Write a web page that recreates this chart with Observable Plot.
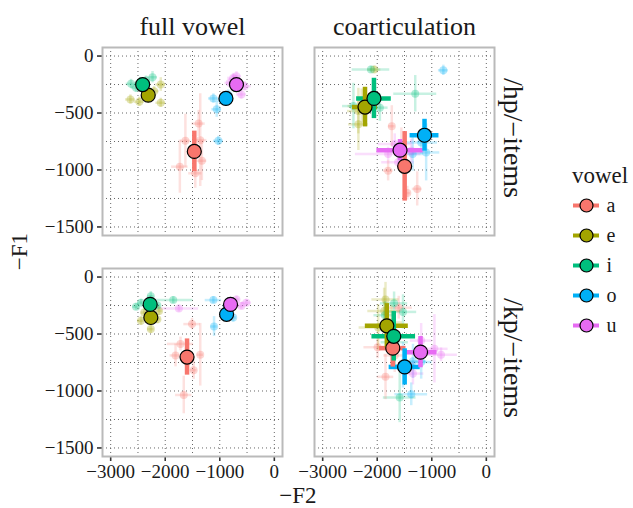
<!DOCTYPE html>
<html><head><meta charset="utf-8">
<script src="https://cdn.jsdelivr.net/npm/d3@7"></script>
<script src="https://cdn.jsdelivr.net/npm/@observablehq/plot@0.6"></script>
<style>
html,body{margin:0;padding:0;background:#fff;}
#wrap{position:relative;width:633px;height:508px;overflow:hidden;font-family:"Liberation Serif","DejaVu Serif",serif;}
#wrap svg{position:absolute;}
.lab{position:absolute;color:#1a1a1a;white-space:nowrap;text-align:center;}
</style></head><body><div id="wrap"></div>
<script>
const FONT = "'Liberation Serif', 'DejaVu Serif', serif";
const vowels = ["a","e","i","o","u"];
const vowelColors = ["#F8766D","#A3A500","#00BF7D","#00B0F6","#E76BF3"];
const conditions = ["full vowel","coarticulation"];
const itemTypes = ["/hp/\u2212items","/kp/\u2212items"];
const xTicks = [-3000,-2000,-1000,0];
const yTicks = [0,-500,-1000,-1500];
const xGrid = [-3000,-2500,-2000,-1500,-1000,-500,0];
const yGrid = [0,-250,-500,-750,-1000,-1250,-1500];

// [vowel, -F2, -F1, sd(-F2), sd(-F1)]
const fullHpMeans = [
 ["a",-1467,-837,40,178],["e",-2312,-343,50,30],["i",-2414,-250,50,30],["o",-887,-372,60,40],["u",-694,-250,50,30]];
const fullHpSpeakers = [
 ["a",-1388,-593,121,116],["a",-1630,-744,90,233],["a",-1358,-738,121,407],["a",-1732,-971,151,233],["a",-1449,-1029,121,131],["a",-1328,-919,90,174],
 ["e",-2638,-381,90,40],["e",-2475,-401,90,40],["e",-2082,-250,90,60],["e",-2082,-410,90,40],["e",-2203,-308,90,40],
 ["i",-2626,-244,90,40],["i",-2535,-279,90,40],["i",-2233,-186,90,50],["i",-2354,-215,90,40],["i",-2457,-227,90,40],
 ["o",-1056,-468,90,70],["o",-1026,-744,90,40],["o",-1117,-372,90,40],["o",-845,-337,90,40],["o",-948,-390,90,40],
 ["u",-755,-192,100,40],["u",-604,-337,90,40],["u",-815,-235,90,40],["u",-543,-265,120,40],["u",-694,-177,90,40]];
const coartHpMeans = [
 ["a",-1497,-968,90,305],["e",-2224,-448,230,174],["i",-2060,-372,318,177],["o",-1133,-695,265,140],["u",-1582,-826,424,93]];
const coartHpSpeakers = [
 ["a",-1733,-616,60,180],["a",-1800,-1006,90,90],["a",-1267,-1166,90,150],["a",-1448,-1203,60,60],["a",-1557,-831,80,200],
 ["e",-2054,-119,120,30],["e",-2345,-483,200,200],["e",-2345,-599,180,230],["e",-2285,-439,250,150],
 ["i",-2115,-119,345,30],["i",-1303,-331,394,160],["i",-1951,-453,150,120],["i",-2436,-439,200,200],
 ["o",-788,-125,90,45],["o",-1103,-846,250,250],["o",-1194,-759,300,100],["o",-1350,-860,200,150],
 ["u",-1800,-860,600,60],["u",-1679,-773,300,90],["u",-1376,-831,250,100],["u",-1618,-933,300,60]];
const fullKpMeans = [
 ["a",-1600,-702,40,159],["e",-2264,-355,40,30],["i",-2276,-240,40,30],["o",-875,-327,40,30],["u",-803,-240,40,30]];
const fullKpSpeakers = [
 ["a",-1509,-413,150,50],["a",-1720,-587,240,60],["a",-1811,-688,100,100],["a",-1358,-682,60,275],["a",-1479,-818,60,80],["a",-1660,-1035,150,165],
 ["e",-2264,-457,60,40],["e",-2113,-298,60,40],["e",-2384,-312,60,40],["e",-2444,-384,60,40],["e",-2143,-370,60,40],
 ["i",-2535,-260,60,30],["i",-2264,-168,60,40],["i",-1853,-202,362,30],["i",-2444,-225,60,30],["i",-2143,-249,60,30],
 ["o",-1117,-202,150,30],["o",-1105,-434,60,87],["o",-754,-355,60,40],["o",-875,-254,60,30],["o",-827,-312,60,30],
 ["u",-1750,-277,362,30],["u",-513,-225,90,30],["u",-694,-197,60,30],["u",-604,-254,60,30],["u",-755,-225,60,30]];
const coartKpMeans = [
 ["a",-1715,-624,242,166],["e",-1824,-428,394,195],["i",-1697,-520,400,217],["o",-1497,-789,285,159],["u",-1206,-659,303,137]];
const coartKpSpeakers = [
 ["a",-1606,-269,250,100],["a",-1994,-616,250,100],["a",-1848,-876,150,200],["a",-1679,-688,200,150],
 ["e",-1873,-298,300,200],["e",-1982,-442,350,200],["e",-1848,-197,250,150],["e",-1739,-399,200,150],
 ["i",-1691,-231,250,100],["i",-1527,-306,250,150],["i",-1588,-1058,300,220],["i",-1860,-335,200,120],["i",-1679,-572,250,200],
 ["o",-1376,-1029,300,100],["o",-1345,-740,250,150],["o",-1527,-775,200,200],["o",-1194,-746,200,150],
 ["u",-830,-682,300,60],["u",-1345,-847,200,100],["u",-951,-630,250,300],["u",-1194,-558,200,150]];

const panels = [
 [conditions[0], itemTypes[0], fullHpMeans, fullHpSpeakers],
 [conditions[1], itemTypes[0], coartHpMeans, coartHpSpeakers],
 [conditions[0], itemTypes[1], fullKpMeans, fullKpSpeakers],
 [conditions[1], itemTypes[1], coartKpMeans, coartKpSpeakers]];
const toRows = (c, it, arr) => arr.map(([v,x,y,sx,sy]) => ({cond:c, items:it, vowel:v, F2:x, F1:y, sdF2:sx, sdF1:sy}));
const means = panels.flatMap(([c,it,m]) => toRows(c,it,m));
const speakers = panels.flatMap(([c,it,,s]) => toRows(c,it,s));

const fmt = d => d < 0 ? "\u2212" + Math.abs(d) : String(d);
const fc = {fx:"cond", fy:"items"};
const topStrips = conditions.map(c => ({cond:c, items:itemTypes[0]}));

const plot = Plot.plot({
  width: 633, height: 508,
  marginLeft: 101, marginRight: 138, marginTop: 46, marginBottom: 52,
  style: {fontFamily: FONT, fontSize: "19px", color: "#1a1a1a", background: "transparent", overflow: "visible"},
  fx: {domain: conditions, paddingInner: 0.15, paddingOuter: 0, axis: null, label: null},
  fy: {domain: itemTypes, paddingInner: 0.15, paddingOuter: 0, axis: null, label: null},
  x: {domain: [-3150, 150], label: null},
  y: {domain: [-1575, 75], label: null},
  color: {domain: vowels, range: vowelColors},
  marks: [
    Plot.gridX(xGrid, {stroke: "#555", strokeOpacity: 0.9, strokeWidth: 1, strokeDasharray: "1,3"}),
    Plot.gridY(yGrid, {stroke: "#555", strokeOpacity: 0.9, strokeWidth: 1, strokeDasharray: "1,3"}),
    Plot.axisX(xTicks, {tickFormat: fmt, tickSize: 5, tickPadding: 3, strokeWidth: 1.6, stroke: "#333", label: null}),
    Plot.axisY(yTicks, {tickFormat: fmt, tickSize: 5, tickPadding: 4, strokeWidth: 1.6, stroke: "#333", label: null}),
    Plot.ruleY(speakers, {...fc, y: "F1", x1: d => d.F2 - d.sdF2, x2: d => d.F2 + d.sdF2, stroke: "vowel", strokeOpacity: 0.22, strokeWidth: 2.5}),
    Plot.ruleX(speakers, {...fc, x: "F2", y1: d => d.F1 - d.sdF1, y2: d => d.F1 + d.sdF1, stroke: "vowel", strokeOpacity: 0.22, strokeWidth: 2.5}),
    Plot.dot(speakers, {...fc, x: "F2", y: "F1", fill: "vowel", fillOpacity: 0.3, r: 4}),
    Plot.ruleY(means, {...fc, y: "F1", x1: d => d.F2 - d.sdF2, x2: d => d.F2 + d.sdF2, stroke: "vowel", strokeWidth: 4.5}),
    Plot.ruleX(means, {...fc, x: "F2", y1: d => d.F1 - d.sdF1, y2: d => d.F1 + d.sdF1, stroke: "vowel", strokeWidth: 4.5}),
    Plot.dot(means, {...fc, x: "F2", y: "F1", fill: "vowel", stroke: "#000", strokeWidth: 1.2, r: 7}),
    Plot.frame({stroke: "#bababa", strokeWidth: 2}),
    Plot.text(topStrips, {...fc, text: "cond", frameAnchor: "top", dy: -13, lineAnchor: "bottom", fontSize: 26, fontFamily: FONT, fill: "#1a1a1a"})
  ]
});
plot.style.left = "0px"; plot.style.top = "0px";
const wrap = document.getElementById("wrap");
wrap.appendChild(plot);

const legend = Plot.plot({
  width: 65, height: 180, margin: 0,
  style: {fontFamily: FONT, background: "transparent", overflow: "visible", color: "#1a1a1a"},
  x: {domain: [0, 65], range: [0, 65], axis: null},
  y: {type: "point", domain: vowels, range: [45, 165], padding: 0, axis: null},
  color: {domain: vowels, range: vowelColors},
  marks: [
    Plot.ruleY(vowels, {y: d => d, x1: 5, x2: 31, stroke: d => d, strokeWidth: 4}),
    Plot.dot(vowels, {y: d => d, x: 18, r: 6.5, fill: d => d, stroke: "#000", strokeWidth: 1.2}),
    Plot.text(vowels, {y: d => d, x: 38, text: d => d, textAnchor: "start", fontSize: 20, fontFamily: FONT, fill: "#1a1a1a"})
  ]
});
legend.style.left = "568px"; legend.style.top = "160px";
wrap.appendChild(legend);

function label(txt, cx, cy, size, rot) {
  const d = document.createElement("div");
  d.className = "lab"; d.textContent = txt;
  d.style.fontSize = size + "px"; d.style.lineHeight = size + "px";
  d.style.width = "200px"; d.style.height = size + "px";
  d.style.left = (cx - 100) + "px"; d.style.top = (cy - size / 2) + "px";
  if (rot) d.style.transform = "rotate(" + rot + "deg)";
  wrap.appendChild(d);
}
label("\u2212F2", 298, 495, 23, 0);
label("\u2212F1", 19, 251, 23, -90);
label(itemTypes[0], 513, 138, 28, 90);
label(itemTypes[1], 513, 358, 28, 90);
const tl = document.createElement("div");
tl.className = "lab"; tl.textContent = "vowel";
tl.style.fontSize = "23px"; tl.style.lineHeight = "23px";
tl.style.left = "572px"; tl.style.top = "164px"; tl.style.textAlign = "left";
wrap.appendChild(tl);
</script>
</body></html>
